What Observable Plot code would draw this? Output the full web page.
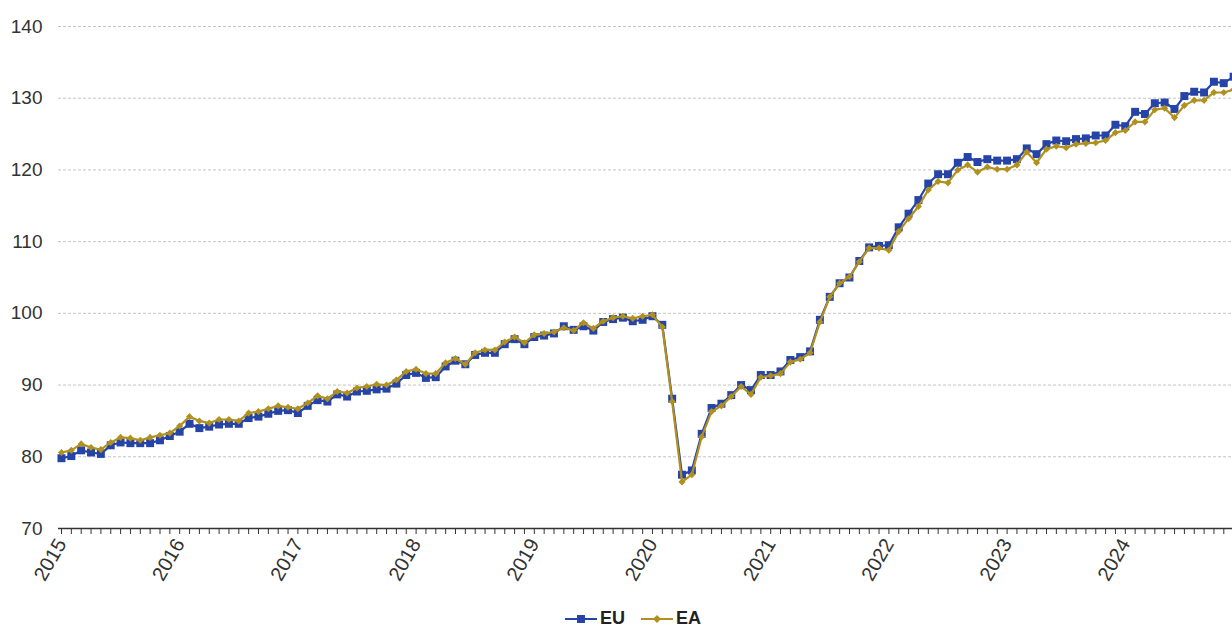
<!DOCTYPE html>
<html>
<head>
<meta charset="utf-8">
<script src="https://cdn.jsdelivr.net/npm/d3@7"></script>
<script src="https://cdn.jsdelivr.net/npm/@observablehq/plot@0.6"></script>
<style>
  html, body { margin: 0; padding: 0; background: #fff; }
  body { width: 1232px; height: 629px; overflow: hidden; position: relative; font-family: "Liberation Sans", Arial, sans-serif; }
  #legend { position: absolute; left: 565px; top: 609px; height: 19px; line-height: 19px; display: flex; align-items: center; font-weight: bold; font-size: 18px; color: #222; }
  #legend .item { display: flex; align-items: center; margin-right: 16px; }
  #legend svg { margin-right: 3px; }
</style>
</head>
<body>
<div id="chart"></div>
<div id="legend"></div>
<script>
// ---- data ----
const startYear = 2015;
const yearLabels = [2015, 2016, 2017, 2018, 2019, 2020, 2021, 2022, 2023, 2024];
const yTicks = [70, 80, 90, 100, 110, 120, 130, 140];
const seriesNames = ["EU", "EA"];
const seriesColors = ["#2644A7", "#B09120"];

const euValues = [
  79.8, 80.1, 80.9, 80.6, 80.4, 81.6, 82.0, 81.9, 81.9, 81.9, 82.3, 82.9,
  83.5, 84.6, 84.0, 84.2, 84.5, 84.6, 84.6, 85.4, 85.6, 86.0, 86.4, 86.5,
  86.1, 87.1, 87.9, 87.7, 88.7, 88.4, 89.1, 89.2, 89.4, 89.5, 90.2, 91.4,
  91.7, 91.0, 91.1, 92.6, 93.4, 92.9, 94.2, 94.5, 94.5, 95.7, 96.4, 95.7,
  96.7, 96.9, 97.2, 98.2, 97.7, 98.2, 97.6, 98.8, 99.2, 99.4, 98.9, 99.1,
  99.6, 98.4, 88.1, 77.5, 78.1, 83.2, 86.8, 87.4, 88.6, 90.0, 89.3, 91.4,
  91.4, 91.9, 93.5, 93.9, 94.7, 99.1, 102.3, 104.2, 105.0, 107.3, 109.2, 109.4,
  109.5, 112.0, 113.9, 115.8, 118.1, 119.4, 119.4, 121.0, 121.8, 121.1, 121.5, 121.3,
  121.3, 121.5, 123.0, 122.2, 123.6, 124.1, 124.0, 124.3, 124.4, 124.8, 124.8, 126.3,
  126.1, 128.1, 127.8, 129.3, 129.4, 128.5, 130.3, 130.9, 130.8, 132.3, 132.1, 133.0
];
const eaValues = [
  80.6, 80.9, 81.8, 81.3, 81.0, 82.0, 82.7, 82.6, 82.3, 82.7, 83.0, 83.3,
  84.3, 85.6, 85.0, 84.7, 85.2, 85.2, 85.0, 86.1, 86.3, 86.7, 87.1, 86.9,
  86.7, 87.5, 88.5, 88.1, 89.1, 88.9, 89.6, 89.8, 90.1, 90.0, 90.7, 91.9,
  92.2, 91.6, 91.6, 93.1, 93.7, 92.9, 94.5, 94.9, 94.9, 96.0, 96.7, 95.9,
  97.0, 97.2, 97.4, 98.0, 97.6, 98.7, 97.9, 98.9, 99.4, 99.6, 99.3, 99.6,
  99.8, 98.1, 87.7, 76.5, 77.5, 82.8, 86.3, 87.1, 88.4, 89.8, 88.7, 91.1,
  91.3, 91.6, 93.2, 93.6, 94.5, 98.8, 102.3, 104.2, 105.1, 107.2, 109.1, 109.1,
  108.8, 111.4, 113.2, 114.9, 117.2, 118.4, 118.2, 120.0, 120.7, 119.7, 120.4, 120.1,
  120.1, 120.7, 122.5, 121.0, 122.9, 123.3, 123.1, 123.6, 123.7, 123.8, 124.1, 125.2,
  125.5, 126.7, 126.7, 128.4, 128.6, 127.3, 129.0, 129.7, 129.7, 130.8, 130.8, 131.2
];

// ---- build table ----
const nMonths = euValues.length;
const rows = [];
[euValues, eaValues].forEach((vals, s) => {
  vals.forEach((v, i) => rows.push({series: seriesNames[s], i, value: v}));
});
const monthTicks = d3.range(0, nMonths);
const pointOffset = 0.3;

const W = 1232, H = 604;
const x0 = 58, step = 9.85;

const chart = Plot.plot({
  width: W,
  height: H,
  marginLeft: 58,
  marginRight: 0,
  marginTop: 26,
  marginBottom: 76,
  style: {fontFamily: "Liberation Sans, Arial, sans-serif", overflow: "hidden", background: "#fff"},
  x: {type: "linear", domain: [0, nMonths - 1], range: [x0, x0 + (nMonths - 1) * step]},
  y: {domain: [70, 140]},
  marks: [
    Plot.ruleY(yTicks.filter(t => t > 70), {stroke: "#c4c4c4", strokeWidth: 1, strokeDasharray: "3,2", strokeOpacity: 1}),
    Plot.axisY({ticks: yTicks, tickSize: 0, tickPadding: 16, fontSize: 19, fill: "#333", label: null}),
    Plot.ruleY([70], {stroke: "#333", strokeWidth: 1.3}),
    Plot.axisX({
      ticks: monthTicks,
      tickSize: 6,
      stroke: "#333",
      strokeOpacity: 1,
      tickFormat: k => (k % 12 === 0 ? String(yearLabels[k / 12]) : ""),
      tickRotate: -60,
      tickPadding: 6,
      dx: 3,
      fontSize: 20,
      fill: "#333",
      label: null
    }),
    Plot.line(rows.filter(d => d.series === "EU"), {x: d => d.i + pointOffset, y: "value", stroke: seriesColors[0], strokeWidth: 2.2}),
    Plot.dot(rows.filter(d => d.series === "EU"), {x: d => d.i + pointOffset, y: "value", symbol: "square", r: 4.5, fill: seriesColors[0], stroke: "none"}),
    Plot.line(rows.filter(d => d.series === "EA"), {x: d => d.i + pointOffset, y: "value", stroke: seriesColors[1], strokeWidth: 2.2}),
    Plot.dot(rows.filter(d => d.series === "EA"), {x: d => d.i + pointOffset, y: "value", symbol: "diamond2", r: 3.2, fill: seriesColors[1], stroke: "none"})
  ]
});
document.getElementById("chart").appendChild(chart);

// ---- legend ----
const legend = document.getElementById("legend");
seriesNames.forEach((name, s) => {
  const item = document.createElement("div");
  item.className = "item";
  const marker = s === 0
    ? `<rect x="12" y="4" width="8" height="8" fill="${seriesColors[s]}"/>`
    : `<path d="M16 4 L20 8 L16 12 L12 8 Z" fill="${seriesColors[s]}"/>`;
  item.innerHTML = `<svg width="32" height="16"><line x1="0" y1="8" x2="32" y2="8" stroke="${seriesColors[s]}" stroke-width="2"/>${marker}</svg><span>${name}</span>`;
  legend.appendChild(item);
});
</script>
</body>
</html>
